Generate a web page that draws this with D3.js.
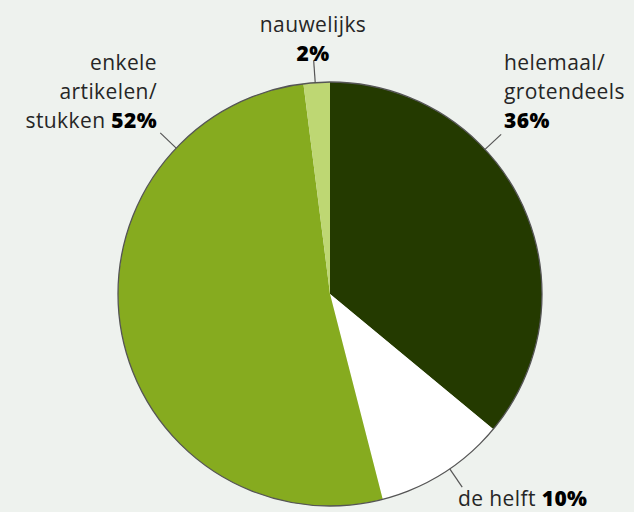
<!DOCTYPE html>
<html>
<head>
<meta charset="utf-8">
<script src="https://cdn.jsdelivr.net/npm/d3@7"></script>
<style>
  body { margin: 0; background: #eef2ee; }
  svg { display: block; }
  text { font-family: "Open Sans", sans-serif; font-size: 21px; fill: #262626; letter-spacing: 0.4px; }
  .pct { font-weight: 800; fill: #000; }
</style>
</head>
<body>
<svg id="chart"></svg>
<script>
// data
var categories = ["helemaal/grotendeels", "de helft", "enkele artikelen/stukken", "nauwelijks"]
var values = [36, 10, 52, 2]
var colors = ["#243a00", "#ffffff", "#86ab1f", "#bed773"]

var dimensions = {
    width: 634,
    height: 512,
    cx: 330,
    cy: 294,
    radius: 212
}

var svg = d3.select("#chart")
    .attr("width", dimensions.width)
    .attr("height", dimensions.height)

var g = svg.append("g")
    .attr("transform", "translate(" + dimensions.cx + "," + dimensions.cy + ")")

var pie = d3.pie().sort(null).value(d => d)
var arcs = pie(values)

var arc = d3.arc().innerRadius(0).outerRadius(dimensions.radius)

g.selectAll("path.slice")
    .data(arcs)
    .enter()
    .append("path")
    .attr("class", "slice")
    .attr("d", arc)
    .attr("fill", (d, i) => colors[i])

// outer rim
g.append("circle")
    .attr("r", dimensions.radius)
    .attr("fill", "none")
    .attr("stroke", "#555")
    .attr("stroke-width", 1.3)

// leader lines (angle in degrees, clockwise from top)
var leaderAngles = [47, 145.6, 313.5, 356]
var leaderLen = 22
g.selectAll("line.leader")
    .data(leaderAngles)
    .enter()
    .append("line")
    .attr("class", "leader")
    .attr("x1", a => dimensions.radius * Math.sin(a * Math.PI / 180))
    .attr("y1", a => -dimensions.radius * Math.cos(a * Math.PI / 180))
    .attr("x2", a => (dimensions.radius + leaderLen) * Math.sin(a * Math.PI / 180))
    .attr("y2", a => -(dimensions.radius + leaderLen) * Math.cos(a * Math.PI / 180))
    .attr("stroke", "#555")
    .attr("stroke-width", 1.2)

//labels
function label(x, y, anchor, lines) {
    var t = svg.append("text")
        .attr("x", x)
        .attr("y", y)
        .style("text-anchor", anchor)
    lines.forEach(function (ln, i) {
        var ts = t.append("tspan").attr("x", x).attr("dy", i == 0 ? 0 : 29)
        ts.append("tspan").text(ln[0])
        if (ln[1]) ts.append("tspan").attr("class", "pct").text(ln[1])
    })
}

label(504, 70, "start", [["helemaal/"], ["grotendeels"], ["", values[0] + "%"]])
label(458, 506, "start", [["de helft ", values[1] + "%"]])
label(157, 70, "end", [["enkele"], ["artikelen/"], ["stukken ", values[2] + "%"]])
label(313, 32, "middle", [["nauwelijks"], ["", values[3] + "%"]])
</script>
</body>
</html>
